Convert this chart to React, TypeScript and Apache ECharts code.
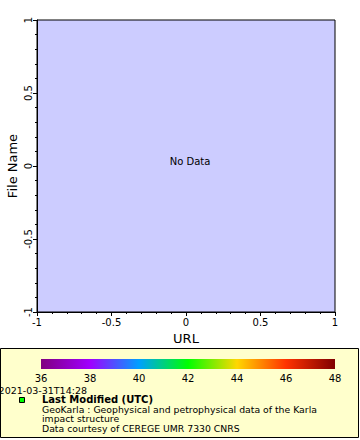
import React, { useEffect, useRef } from "react";
import * as echarts from "echarts";

const xTicks = [-1, -0.5, 0, 0.5, 1];
const yTicks = [-1, -0.5, 0, 0.5, 1];
const colorTicks = [36, 38, 40, 42, 44, 46, 48];
const paletteStops = ["#800080", "#a000ff", "#00a0ff", "#00ff00", "#ffd700", "#ff3300", "#800000"];
const legendLines = [
  "GeoKarla : Geophysical and petrophysical data of the Karla",
  "impact structure",
  "Data courtesy of CEREGE UMR 7330 CNRS",
];
const legendTitle = "Last Modified (UTC)";
const timeLabel = "2021-03-31T14:28";
const noDataText = "No Data";

const FONT = "DejaVu Sans";

export default function App() {
  const ref = useRef<HTMLDivElement>(null);
  useEffect(() => {
    if (!ref.current) return;
    const chart = echarts.init(ref.current, null, { renderer: "svg" });
    const gradient = new echarts.graphic.LinearGradient(
      0, 0, 1, 0,
      paletteStops.map((c, i) => ({ offset: i / (paletteStops.length - 1), color: c }))
    );
    const tickFmt = (v: number) => (xTicks.includes(v) || yTicks.includes(v) ? String(v) : "");
    const txt = (size: number, weight: string = "normal") => ({
      fontFamily: FONT, fontSize: size, fontWeight: weight, fill: "#000",
    });
    chart.setOption({
      animation: false,
      backgroundColor: "#ffffff",
      textStyle: { fontFamily: FONT },
      grid: [
        {
          left: 37, top: 20, width: 298, height: 292, outerBoundsMode: "none",
          show: true, backgroundColor: "#ccccff", borderColor: "#000", borderWidth: 1,
        },
        {
          left: 41, top: 359, width: 294, height: 10, outerBoundsMode: "none",
          show: false,
        },
      ],
      xAxis: [
        {
          gridIndex: 0, type: "value", min: -1, max: 1, interval: 0.5,
          name: "URL", nameLocation: "middle", nameGap: 20, nameMoveOverlap: false,
          nameTextStyle: { fontSize: 13, color: "#000", fontFamily: FONT },
          axisLine: { show: true, onZero: false, lineStyle: { color: "#000", width: 1 } },
          axisTick: { show: true, length: 4, lineStyle: { color: "#000" } },
          minorTick: { show: true, splitNumber: 5, length: 2, lineStyle: { color: "#000" } },
          splitLine: { show: false },
          axisLabel: { fontSize: 10, color: "#000", margin: 5, fontFamily: FONT, formatter: tickFmt },
        },
        {
          gridIndex: 1, type: "value", min: 36, max: 48, interval: 2,
          axisLine: { show: false, onZero: false }, axisTick: { show: false }, splitLine: { show: false },
          axisLabel: { fontSize: 10, color: "#000", margin: 4, fontFamily: FONT },
        },
      ],
      yAxis: [
        {
          gridIndex: 0, type: "value", min: -1, max: 1, interval: 0.5,
          name: "File Name", nameLocation: "middle", nameGap: 18, nameMoveOverlap: false,
          nameTextStyle: { fontSize: 13, color: "#000", fontFamily: FONT },
          axisLine: { show: true, onZero: false, lineStyle: { color: "#000", width: 1 } },
          axisTick: { show: true, length: 4, lineStyle: { color: "#000" } },
          minorTick: { show: true, splitNumber: 5, length: 2, lineStyle: { color: "#000" } },
          splitLine: { show: false },
          axisLabel: { fontSize: 10, color: "#000", margin: 4, rotate: 90, fontFamily: FONT, formatter: tickFmt },
        },
        {
          gridIndex: 1, type: "value", min: 0, max: 1, show: false,
        },
      ],
      series: [
        { type: "scatter", xAxisIndex: 0, yAxisIndex: 0, data: [] },
      ],
      graphic: [
        {
          type: "rect", z: 0,
          shape: { x: 0.5, y: 348.5, width: 358, height: 89 },
          style: { fill: "#ffffcc", stroke: "#000", lineWidth: 1 },
        },
        {
          type: "rect", z: 5,
          shape: { x: 41, y: 359, width: 294, height: 10 },
          style: { fill: gradient },
        },
        {
          type: "text", z: 10, x: 190, y: 161,
          style: { text: noDataText, ...txt(10), align: "center", verticalAlign: "middle" },
        },
        {
          type: "text", z: 10, x: 87, y: 390,
          style: { text: timeLabel, ...txt(9.5), align: "right", verticalAlign: "middle" },
        },
        {
          type: "rect", z: 10,
          shape: { x: 19.5, y: 397.5, width: 5, height: 5 },
          style: { fill: "#00ff00", stroke: "#000", lineWidth: 1 },
        },
        {
          type: "text", z: 10, x: 42, y: 399,
          style: { text: legendTitle, ...txt(10, "bold"), align: "left", verticalAlign: "middle" },
        },
        ...legendLines.map((t, i) => ({
          type: "text", z: 10, x: 42, y: 409 + i * 9.5,
          style: { text: t, ...txt(9.3), align: "left", verticalAlign: "middle" },
        })),
      ],
    });
    return () => chart.dispose();
  }, []);
  return (
    <div
      ref={ref}
      style={{ position: "absolute", left: 0, top: 0, width: 360, height: 440 }}
    />
  );
}
